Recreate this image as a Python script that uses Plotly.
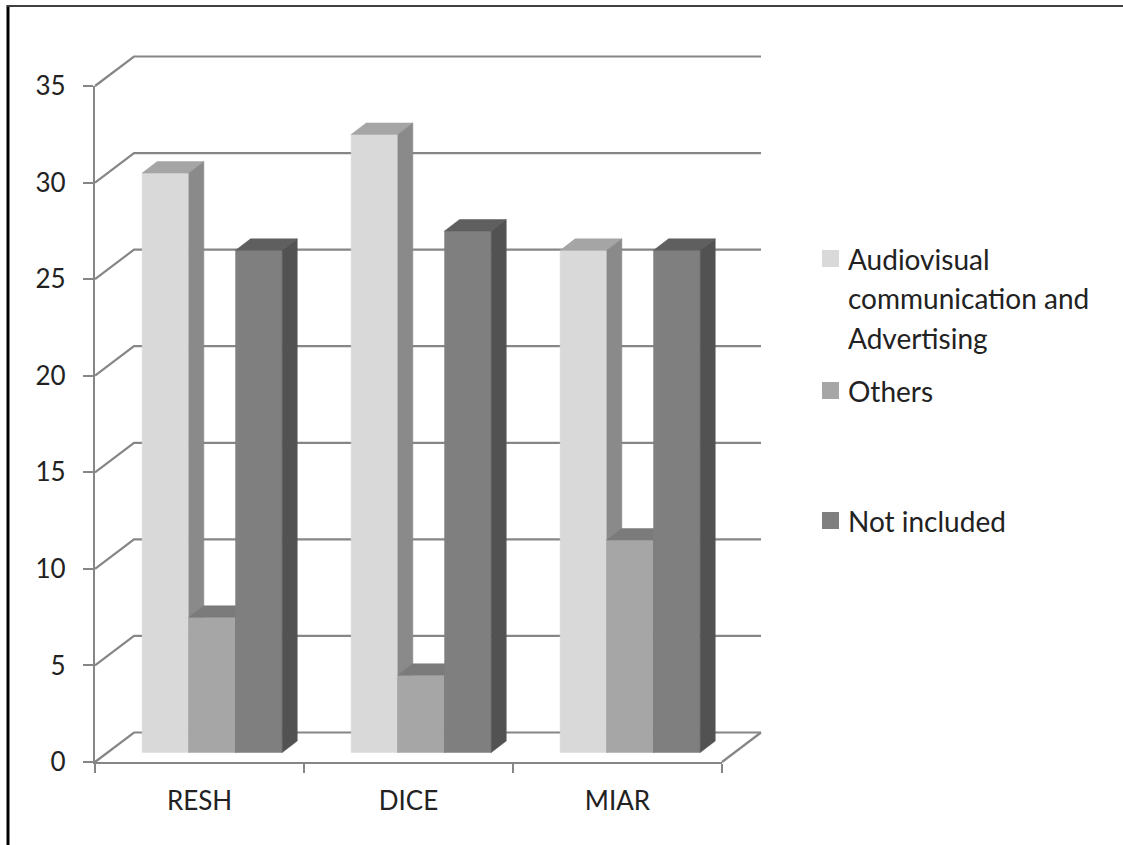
import plotly.graph_objects as go

categories = ["RESH", "DICE", "MIAR"]
series_names = ["Audiovisual communication and Advertising", "Others", "Not included"]
audiovisual = [30, 32, 26]
others = [7, 4, 11]
not_included = [26, 27, 26]
y_ticks = [0, 5, 10, 15, 20, 25, 30, 35]

series_values = [audiovisual, others, not_included]
front_colors = ["#D9D9D9", "#A6A6A6", "#7F7F7F"]
top_colors = ["#A5A5A5", "#7B7B7B", "#5F5F5F"]
side_colors = ["#8A8A8A", "#6A6A6A", "#525252"]
grid_color = "#868686"
font_family = "Lato, Carlito, Calibri, sans-serif"
text_color = "#222222"

W, H = 1123, 845
L, R, T, B = 95, 722, 86, 762
px_x = (R - L) / 3
px_y = (B - T) / 35

# oblique projection of the 3-D box, in axis units
wall_dx, wall_dy = 39 / px_x, 29.5 / px_y
floor_dx, floor_dy = 12 / px_x, 9.5 / px_y
bar_dx, bar_dy = 15 / px_x, 11.5 / px_y
bar_w = 46.7 / px_x
start = (1 - 3 * bar_w) / 2 + floor_dx + 0.7 / px_x

fig = go.Figure()

# keeps the front axes (ticks, labels, axis lines) on the page
fig.add_trace(go.Scatter(x=[0, 3], y=[0, 35], xaxis="x", yaxis="y", mode="lines", hoverinfo="skip",
                         showlegend=False, line=dict(color="rgba(0,0,0,0)", width=0)))


def line_trace(xs, ys):
    fig.add_trace(go.Scatter(x=xs, y=ys, xaxis="x2", yaxis="y2", mode="lines", hoverinfo="skip",
                             showlegend=False, line=dict(color=grid_color, width=2.2)))


# walls: gridline on side wall and back wall
xs, ys = [], []
for v in y_ticks:
    xs += [0, wall_dx, 3 + wall_dx, None]
    ys += [v, v + wall_dy, v + wall_dy, None]
xs += [3, 3 + wall_dx, None]
ys += [0, wall_dy, None]
line_trace(xs, ys)


def polys(list_of_points):
    xs, ys = [], []
    for pts in list_of_points:
        for (a, b) in pts + [pts[0]]:
            xs.append(a)
            ys.append(b)
        xs.append(None)
        ys.append(None)
    return xs, ys


for s, (name, vals) in enumerate(zip(series_names, series_values)):
    front, top, side = [], [], []
    for c, v in enumerate(vals):
        x0 = c + start + s * bar_w
        x1 = x0 + bar_w
        y0 = floor_dy
        y1 = v + floor_dy
        front.append([(x0, y0), (x1, y0), (x1, y1), (x0, y1)])
        top.append([(x0, y1), (x1, y1), (x1 + bar_dx, y1 + bar_dy), (x0 + bar_dx, y1 + bar_dy)])
        side.append([(x1, y0), (x1 + bar_dx, y0 + bar_dy), (x1 + bar_dx, y1 + bar_dy), (x1, y1)])
    for faces, col in ((front, front_colors[s]), (top, top_colors[s]), (side, side_colors[s])):
        fx, fy = polys(faces)
        fig.add_trace(go.Scatter(x=fx, y=fy, xaxis="x2", yaxis="y2", mode="lines", fill="toself",
                                 fillcolor=col, name=name, showlegend=False, hoverinfo="skip",
                                 line=dict(color=col, width=0.5)))

# legend
legend_lines = [("Audiovisual", 259), ("communication and", 298), ("Advertising", 338),
                ("Others", 391), ("Not included", 521)]
annotations = [dict(text=t, xref="paper", yref="paper", x=846 / W, y=1 - yy / H, xanchor="left",
                    yanchor="middle", showarrow=False,
                    font=dict(family=font_family, size=28, color=text_color))
               for t, yy in legend_lines]
shapes = []
for col, yy in zip(front_colors, [259, 391, 521]):
    shapes.append(dict(type="rect", xref="paper", yref="paper", x0=822 / W, x1=839 / W,
                       y0=1 - (yy - 9) / H, y1=1 - (yy + 8) / H, fillcolor=col, line=dict(width=0)))
# outer frame (left and top only)
shapes.append(dict(type="line", xref="paper", yref="paper", x0=8 / W, x1=8 / W, y0=1 - 5 / H, y1=0,
                   line=dict(color="#000000", width=3)))
shapes.append(dict(type="line", xref="paper", yref="paper", x0=7 / W, x1=1, y0=1 - 6 / H, y1=1 - 6 / H,
                   line=dict(color="#404040", width=2)))

MX0, MX1, MY0, MY1 = 60, 800, 800, 40  # pixel box of the overlay that holds the 3-D marks

fig.update_layout(
    width=W, height=H, margin=dict(l=0, r=0, t=0, b=0, autoexpand=False),
    paper_bgcolor="white", plot_bgcolor="rgba(0,0,0,0)", showlegend=False,
    annotations=annotations, shapes=shapes,
    font=dict(family=font_family, size=26, color=text_color),
    xaxis=dict(domain=[L / W, R / W], anchor="y", range=[0, 3], tickmode="array",
               tickvals=[0.5, 1.5, 2.5], ticktext=categories,
               ticks="", showgrid=False, zeroline=False, showline=True, linecolor=grid_color, linewidth=2.2,
               ticklabelstandoff=15, automargin=False,
               minor=dict(tickmode="array", tickvals=[0, 1, 2, 3], ticks="outside", ticklen=9,
                          tickwidth=2, tickcolor=grid_color, showgrid=False)),
    yaxis=dict(domain=[1 - B / H, 1 - T / H], anchor="x", range=[0, 35], tickmode="array", tickvals=y_ticks,
               ticks="outside", ticklen=10,
               tickwidth=2, tickcolor=grid_color, showgrid=False, zeroline=False, showline=True,
               linecolor=grid_color, linewidth=2.2, ticklabelstandoff=12, automargin=False),
    xaxis2=dict(domain=[MX0 / W, MX1 / W], anchor="y2", range=[(MX0 - L) / px_x, (MX1 - L) / px_x], visible=False),
    yaxis2=dict(domain=[1 - MY0 / H, 1 - MY1 / H], anchor="x2", range=[(B - MY0) / px_y, (B - MY1) / px_y], visible=False),
)

fig.write_html("out.html", config={"displayModeBar": False}, post_script="document.body.style.margin='0';")
